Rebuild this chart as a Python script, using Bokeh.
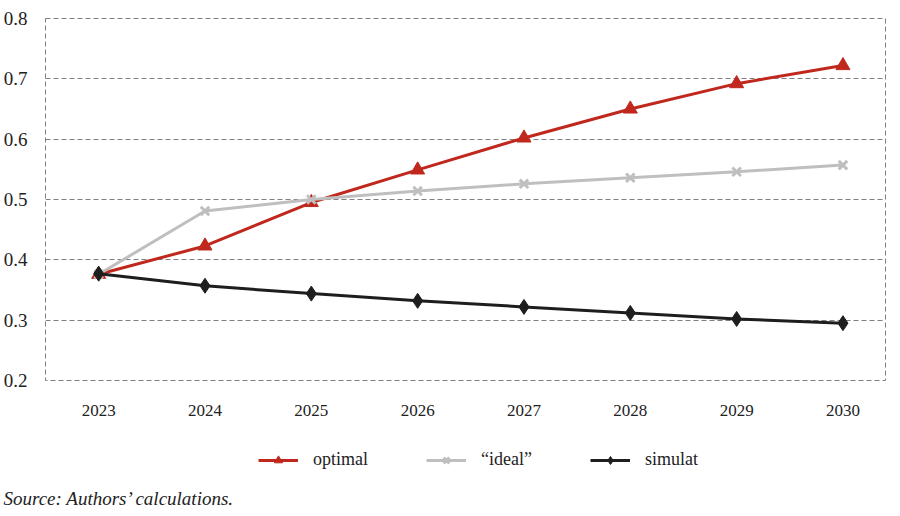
from bokeh.plotting import figure
from bokeh.layouts import column
from bokeh.models import Legend, LegendItem, FixedTicker, Range1d, Title, CustomJSTickFormatter
from bokeh.embed import file_html
from bokeh.resources import INLINE

years = [2023, 2024, 2025, 2026, 2027, 2028, 2029, 2030]
optimal = [0.376, 0.423, 0.495, 0.549, 0.602, 0.650, 0.692, 0.722]
ideal = [0.376, 0.481, 0.500, 0.514, 0.526, 0.536, 0.546, 0.557]
simulat = [0.377, 0.357, 0.344, 0.332, 0.322, 0.312, 0.302, 0.295]
y_ticks = [0.2, 0.3, 0.4, 0.5, 0.6, 0.7, 0.8]
series_names = ["optimal", "\u201cideal\u201d", "simulat"]
source_text = "Source: Authors\u2019 calculations."

FONT = "Liberation Serif"
RED = "#C0281E"
GRAY = "#BFBFBF"
BLACK = "#1E1E1E"
TXT = "#222222"

W = 892

p = figure(width=W, height=420, output_backend="svg", toolbar_location=None,
           x_range=Range1d(2022.5, 2030.4), y_range=Range1d(0.2, 0.8),
           min_border_left=44, min_border_right=7, min_border_top=18, min_border_bottom=40)

p.outline_line_color = "#7F7F7F"
p.outline_line_dash = "5 3"
p.outline_line_width = 1
p.xgrid.visible = False
p.ygrid.grid_line_color = "#7F7F7F"
p.ygrid.grid_line_dash = "5 3"
p.ygrid.ticker = FixedTicker(ticks=y_ticks)

p.yaxis.ticker = FixedTicker(ticks=y_ticks)
p.yaxis.formatter = CustomJSTickFormatter(code="return tick.toFixed(1);")
p.xaxis.ticker = FixedTicker(ticks=years)
for ax in (p.xaxis, p.yaxis):
    ax.axis_line_color = None
    ax.major_tick_line_color = None
    ax.minor_tick_line_color = None
    ax.major_label_text_font = FONT
    ax.major_label_text_color = TXT
p.xaxis.major_label_text_font_size = "17px"
p.yaxis.major_label_text_font_size = "19px"
p.yaxis.major_label_standoff = 12
p.xaxis.major_label_standoff = 18

def draw(fig):
    r1 = fig.line(years, optimal, line_color=RED, line_width=3)
    m1 = fig.scatter(years, optimal, marker="triangle", size=14, fill_color=RED, line_color=RED)
    r2 = fig.line(years, ideal, line_color=GRAY, line_width=3)
    m2 = fig.scatter(years, ideal, marker="x", size=12, line_color=GRAY, line_width=3)
    r3 = fig.line(years, simulat, line_color=BLACK, line_width=3)
    m3 = fig.scatter(years, simulat, marker="diamond", size=15, fill_color=BLACK, line_color=BLACK)
    return [[r1, m1], [r2, m2], [r3, m3]]

draw(p)

# bottom strip: legend + source note (frame is aligned with the main plot's frame)
p2 = figure(width=W, height=88, output_backend="svg", toolbar_location=None,
            x_range=Range1d(0, 1), y_range=Range1d(0, 1),
            x_axis_location=None, y_axis_location=None,
            min_border_left=44, min_border_right=7, min_border_top=0, min_border_bottom=0)
p2.grid.visible = False
p2.outline_line_color = None
groups = draw(p2)  # data lies outside this strip's range; only the legend samples show

src = Title(text=source_text, align="left", offset=-42, standoff=0,
            text_font=FONT, text_font_size="19px", text_font_style="italic",
            text_color=TXT)
p2.add_layout(src, "below")

legend = Legend(items=[LegendItem(label=n, renderers=g) for n, g in zip(series_names, groups)],
                orientation="horizontal", location=(213, 15),
                label_text_font=FONT, label_text_font_size="18px",
                label_text_color=TXT,
                glyph_width=40, label_standoff=15, spacing=58,
                border_line_color=None, background_fill_alpha=0,
                padding=4, margin=0)
p2.add_layout(legend, "center")

layout = column(p, p2, spacing=0)
open("out.html", "w").write(file_html(layout, INLINE))
